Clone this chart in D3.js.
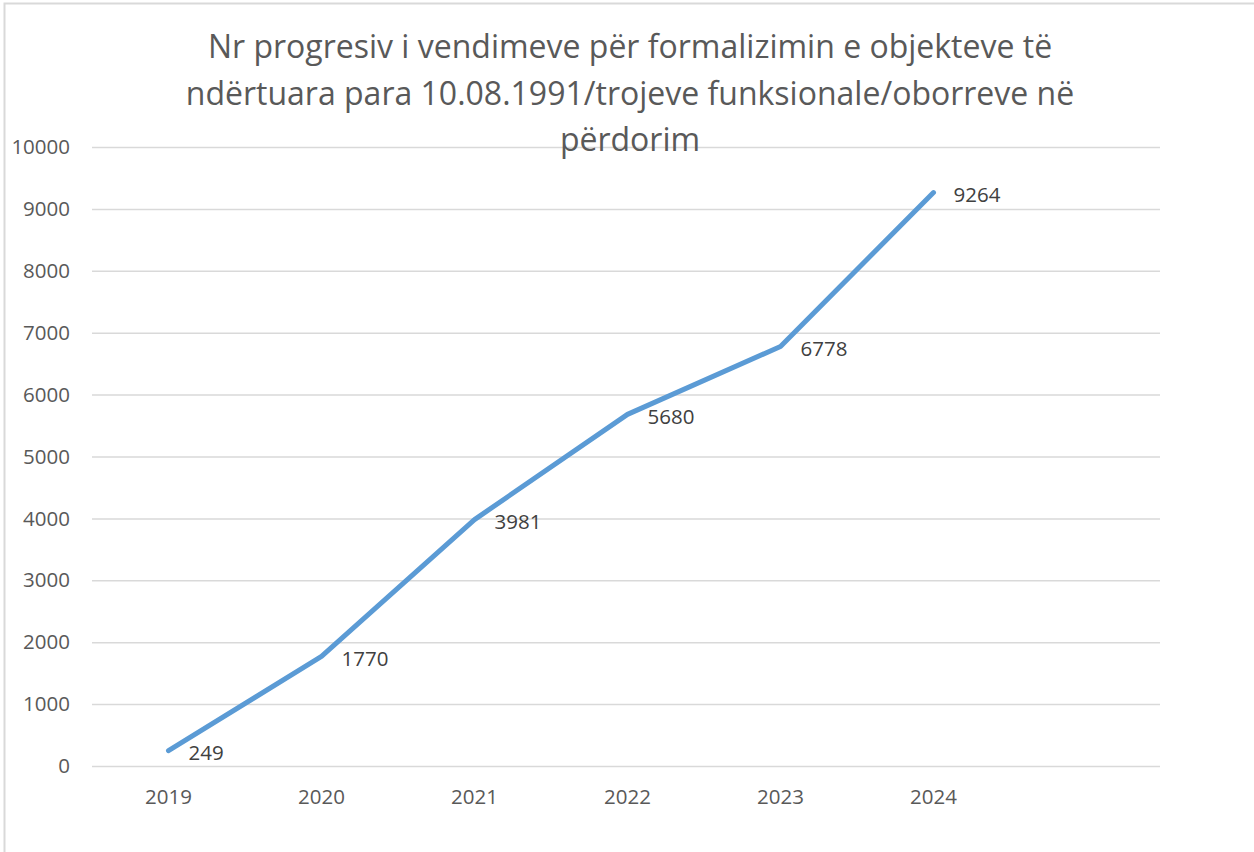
<!DOCTYPE html>
<meta charset="utf-8">
<style>
body { margin: 0; background: #fff; }
svg { display: block; font-family: "Open Sans", sans-serif; }
.grid line { stroke: #d9d9d9; stroke-width: 1.5; }
.grid path { display: none; }
.ylab text, .xlab text { fill: #595959; font-size: 20.5px; }
.title { fill: #595959; font-size: 32px; text-anchor: middle; }
.dlabel { fill: #404040; font-size: 20.5px; }
.line { fill: none; stroke: #5b9bd5; stroke-width: 5; stroke-linecap: round; stroke-linejoin: round; }
</style>
<body>
<script src="https://cdn.jsdelivr.net/npm/d3@7"></script>
<script>
// chart data
var years = ["2019", "2020", "2021", "2022", "2023", "2024"];
var values = [249, 1770, 3981, 5680, 6778, 9264];
var yTicks = [0, 1000, 2000, 3000, 4000, 5000, 6000, 7000, 8000, 9000, 10000];
var titleLines = [
  "Nr progresiv i vendimeve për formalizimin e objekteve të",
  "ndërtuara para 10.08.1991/trojeve funksionale/oborreve në",
  "përdorim"
];

var W = 1254, H = 852;
var plotLeft = 92, plotRight = 1163, plotTop = 147, plotBottom = 766;

var svg = d3.select("body").append("svg")
    .attr("width", W)
    .attr("height", H);

// outer frame of the chart area
svg.append("rect")
    .attr("x", 4.5).attr("y", 3.5)
    .attr("width", 1300).attr("height", 900)
    .attr("fill", "none")
    .attr("stroke", "#d9d9d9")
    .attr("stroke-width", 2);

// 7 slots, the last one is empty like in the original
var x = d3.scaleBand().domain(years.concat([""])).range([plotLeft, plotRight]);
var y = d3.scaleLinear().domain([0, 10000]).range([plotBottom, plotTop]);

// gridlines
svg.append("g")
    .attr("class", "grid")
    .attr("transform", "translate(" + plotLeft + ",0)")
    .call(d3.axisLeft(y).tickValues(yTicks).tickSize(-(plotRight - plotLeft - 3)).tickFormat(""));

// y labels
svg.append("g")
    .attr("class", "ylab")
    .selectAll("text")
    .data(yTicks)
    .enter().append("text")
    .attr("x", 70)
    .attr("y", function(d) { return y(d); })
    .attr("dy", "0.35em")
    .attr("text-anchor", "end")
    .text(function(d) { return d; });

// x labels
svg.append("g")
    .attr("class", "xlab")
    .selectAll("text")
    .data(years)
    .enter().append("text")
    .attr("x", function(d) { return x(d) + x.bandwidth() / 2; })
    .attr("y", 797)
    .attr("dy", "0.35em")
    .attr("text-anchor", "middle")
    .text(function(d) { return d; });

var pts = years.map(function(d, i) { return { year: d, v: values[i] }; });

var line = d3.line()
    .x(function(d) { return x(d.year) + x.bandwidth() / 2; })
    .y(function(d) { return y(d.v); });

svg.append("path")
    .attr("class", "line")
    .attr("d", line(pts));

// data labels to the right of each point
svg.append("g")
    .selectAll("text")
    .data(pts)
    .enter().append("text")
    .attr("class", "dlabel")
    .attr("x", function(d) { return x(d.year) + x.bandwidth() / 2 + 20; })
    .attr("y", function(d) { return y(d.v) + 2; })
    .attr("dy", "0.35em")
    .text(function(d) { return d.v; });

// title
svg.append("g")
    .selectAll("text")
    .data(titleLines)
    .enter().append("text")
    .attr("class", "title")
    .attr("x", 630)
    .attr("y", function(d, i) { return 47 + i * 46.5; })
    .attr("dy", "0.35em")
    .text(function(d) { return d; });
</script>
</body>
